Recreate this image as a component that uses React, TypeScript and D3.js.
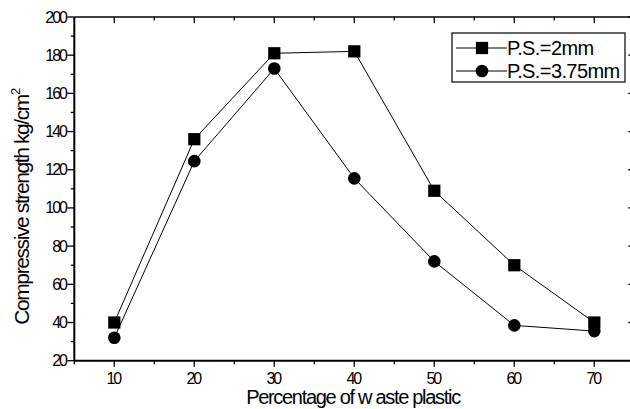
import * as d3 from 'd3';

const percent = [10, 20, 30, 40, 50, 60, 70];
const strength2mm = [40, 136, 181, 182, 109, 70, 40];
const strength375mm = [32, 124.5, 173, 115.5, 72, 38.5, 35.5];
const seriesNames = ['P.S.=2mm', 'P.S.=3.75mm'];
const xTicks = [10, 20, 30, 40, 50, 60, 70];
const yTicks = [20, 40, 60, 80, 100, 120, 140, 160, 180, 200];

const W = 630, H = 409;
const font = '"Liberation Sans", Arial, sans-serif';

const App = () => {
  // scales: x axis runs 5..75, right edge falls just outside the frame
  const x = d3.scaleLinear().domain([5, 75]).range([74.3, 634.3]);
  const y = d3.scaleLinear().domain([20, 200]).range([360.7, 17]);
  const left = x(5), right = x(75), top = y(200), bottom = y(20);

  const line = d3.line<number>()
    .x((d, i) => x(percent[i]))
    .y((d) => y(d));

  const square = d3.symbol().type(d3.symbolSquare).size(150)();
  const circle = d3.symbol().type(d3.symbolCircle).size(125)();

  const xMinor = d3.range(5, 76, 5).filter((v) => v % 10 !== 0);
  const yMinor = d3.range(30, 200, 20);

  return (
    <svg width={W} height={H} style={{ position: 'absolute', left: 0, top: 0, background: '#fff' }}
      fontFamily={font}>
      <rect x={0} y={0} width={W} height={H} fill="#fff" />

      {/* frame */}
      <g stroke="#000" fill="none">
        <line x1={left} x2={right} y1={top} y2={top} strokeWidth={1.5} />
        <line x1={left} x2={right} y1={bottom} y2={bottom} strokeWidth={2} />
        <line x1={left} x2={left} y1={top} y2={bottom} strokeWidth={2} />
        <line x1={right} x2={right} y1={top} y2={bottom} strokeWidth={1.5} />
      </g>

      {/* x ticks */}
      <g stroke="#000" strokeWidth={1.3}>
        {xTicks.map((t) => (
          <g key={'xt' + t}>
            <line x1={x(t)} x2={x(t)} y1={bottom} y2={bottom + 6} />
            <line x1={x(t)} x2={x(t)} y1={top} y2={top + 6} />
          </g>
        ))}
        {xMinor.map((t) => (
          <g key={'xm' + t}>
            <line x1={x(t)} x2={x(t)} y1={bottom} y2={bottom + 3.5} />
            <line x1={x(t)} x2={x(t)} y1={top} y2={top + 3.5} />
          </g>
        ))}
      </g>
      <g fontSize={16} letterSpacing={-2} textAnchor="middle">
        {xTicks.map((t) => (
          <text key={'xl' + t} x={x(t) - 1} y={384}>{t}</text>
        ))}
      </g>

      {/* y ticks */}
      <g stroke="#000" strokeWidth={1.3}>
        {yTicks.map((t) => (
          <g key={'yt' + t}>
            <line x1={left - 7} x2={left} y1={y(t)} y2={y(t)} />
            <line x1={right - 6} x2={right} y1={y(t)} y2={y(t)} />
          </g>
        ))}
        {yMinor.map((t) => (
          <g key={'ym' + t}>
            <line x1={left - 3.5} x2={left} y1={y(t)} y2={y(t)} />
            <line x1={right - 3.5} x2={right} y1={y(t)} y2={y(t)} />
          </g>
        ))}
      </g>
      <g fontSize={16} letterSpacing={-2} textAnchor="end">
        {yTicks.map((t) => (
          <text key={'yl' + t} x={66} y={y(t) + 5.5}>{t}</text>
        ))}
      </g>

      {/* axis titles */}
      <text x={353} y={404} fontSize={20} letterSpacing={-1.3} textAnchor="middle">
        Percentage of w aste plastic
      </text>
      <text transform="translate(29,207) rotate(-90)" fontSize={21} letterSpacing={-1.4} textAnchor="middle">
        Compressive strength kg/cm<tspan dy={-9} fontSize={13}>2</tspan>
      </text>

      {/* series */}
      <path d={line(strength2mm) ?? ''} fill="none" stroke="#000" strokeWidth={1} />
      <path d={line(strength375mm) ?? ''} fill="none" stroke="#000" strokeWidth={1} />
      {strength2mm.map((v, i) => (
        <path key={'s' + i} d={square ?? ''} transform={`translate(${x(percent[i])},${y(v)})`} fill="#000" />
      ))}
      {strength375mm.map((v, i) => (
        <path key={'c' + i} d={circle ?? ''} transform={`translate(${x(percent[i])},${y(v)})`} fill="#000" />
      ))}

      {/* legend */}
      <rect x={452} y={33} width={173} height={49} fill="#fff" stroke="#000" strokeWidth={1.2} />
      {seriesNames.map((name, i) => {
        const ly = 48 + i * 23;
        return (
          <g key={name}>
            <line x1={456} x2={507} y1={ly} y2={ly} stroke="#000" strokeWidth={1} />
            <path d={(i === 0 ? square : circle) ?? ''} transform={`translate(482,${ly})`} fill="#000" />
            <text x={507} y={ly + 7} fontSize={20} letterSpacing={-0.6}>{name}</text>
          </g>
        );
      })}
    </svg>
  );
};

export default App;
